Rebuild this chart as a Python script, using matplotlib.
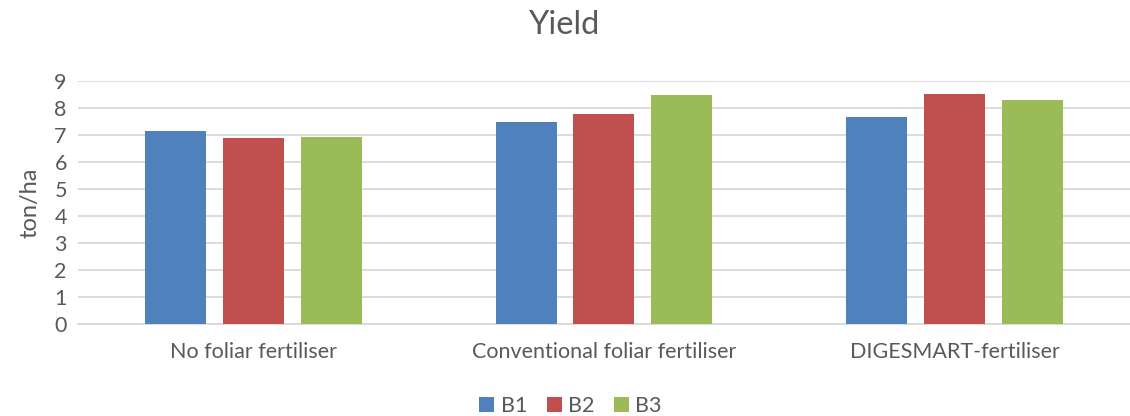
import numpy as np
import matplotlib.pyplot as plt

categories = ["No foliar fertiliser", "Conventional foliar fertiliser", "DIGESMART-fertiliser"]
series_names = ["B1", "B2", "B3"]
b1 = [7.14, 7.49, 7.67]
b2 = [6.88, 7.78, 8.51]
b3 = [6.93, 8.47, 8.30]
yticks = list(range(0, 10))

colors = ["#4F81BD", "#C0504D", "#9BBB59"]
text_color = "#595959"
grid_color = "#D9D9D9"

plt.rcParams["font.family"] = ["Lato", "DejaVu Sans"]

fig = plt.figure(figsize=(11.3, 4.16), dpi=100)
ax = fig.add_axes([0.069, 0.221, 0.931, 0.584])

x = np.arange(len(categories))
width = 0.174
step = 0.222
for i, (name, vals) in enumerate(zip(series_names, [b1, b2, b3])):
    ax.bar(x + (i - 1) * step, vals, width, color=colors[i], label=name, zorder=3)

ax.set_xlim(-0.5, len(categories) - 0.5)
ax.set_ylim(0, 9)
ax.set_yticks(yticks)
ax.set_xticks(x)
ax.set_xticklabels(categories)
ax.yaxis.grid(True, color=grid_color, linewidth=1.3, zorder=0)
ax.tick_params(axis="both", length=0, colors=text_color, labelsize=15.5)
ax.tick_params(axis="x", pad=13)
ax.tick_params(axis="y", pad=8)
for side in ["top", "right", "left"]:
    ax.spines[side].set_visible(False)
ax.spines["bottom"].set_color(grid_color)
ax.spines["bottom"].set_linewidth(1.3)

ax.set_ylabel("ton/ha", color=text_color, fontsize=17, labelpad=10)
fig.text(0.5, 0.94, "Yield", ha="center", va="center", color=text_color, fontsize=23.5)

fig.legend(loc="center", bbox_to_anchor=(0.505, 0.025), ncol=3, frameon=False,
           fontsize=15.5, labelcolor=text_color, handlelength=0.7, handleheight=0.7,
           handletextpad=0.3, columnspacing=0.9)

fig.savefig("out.png", dpi=100)
